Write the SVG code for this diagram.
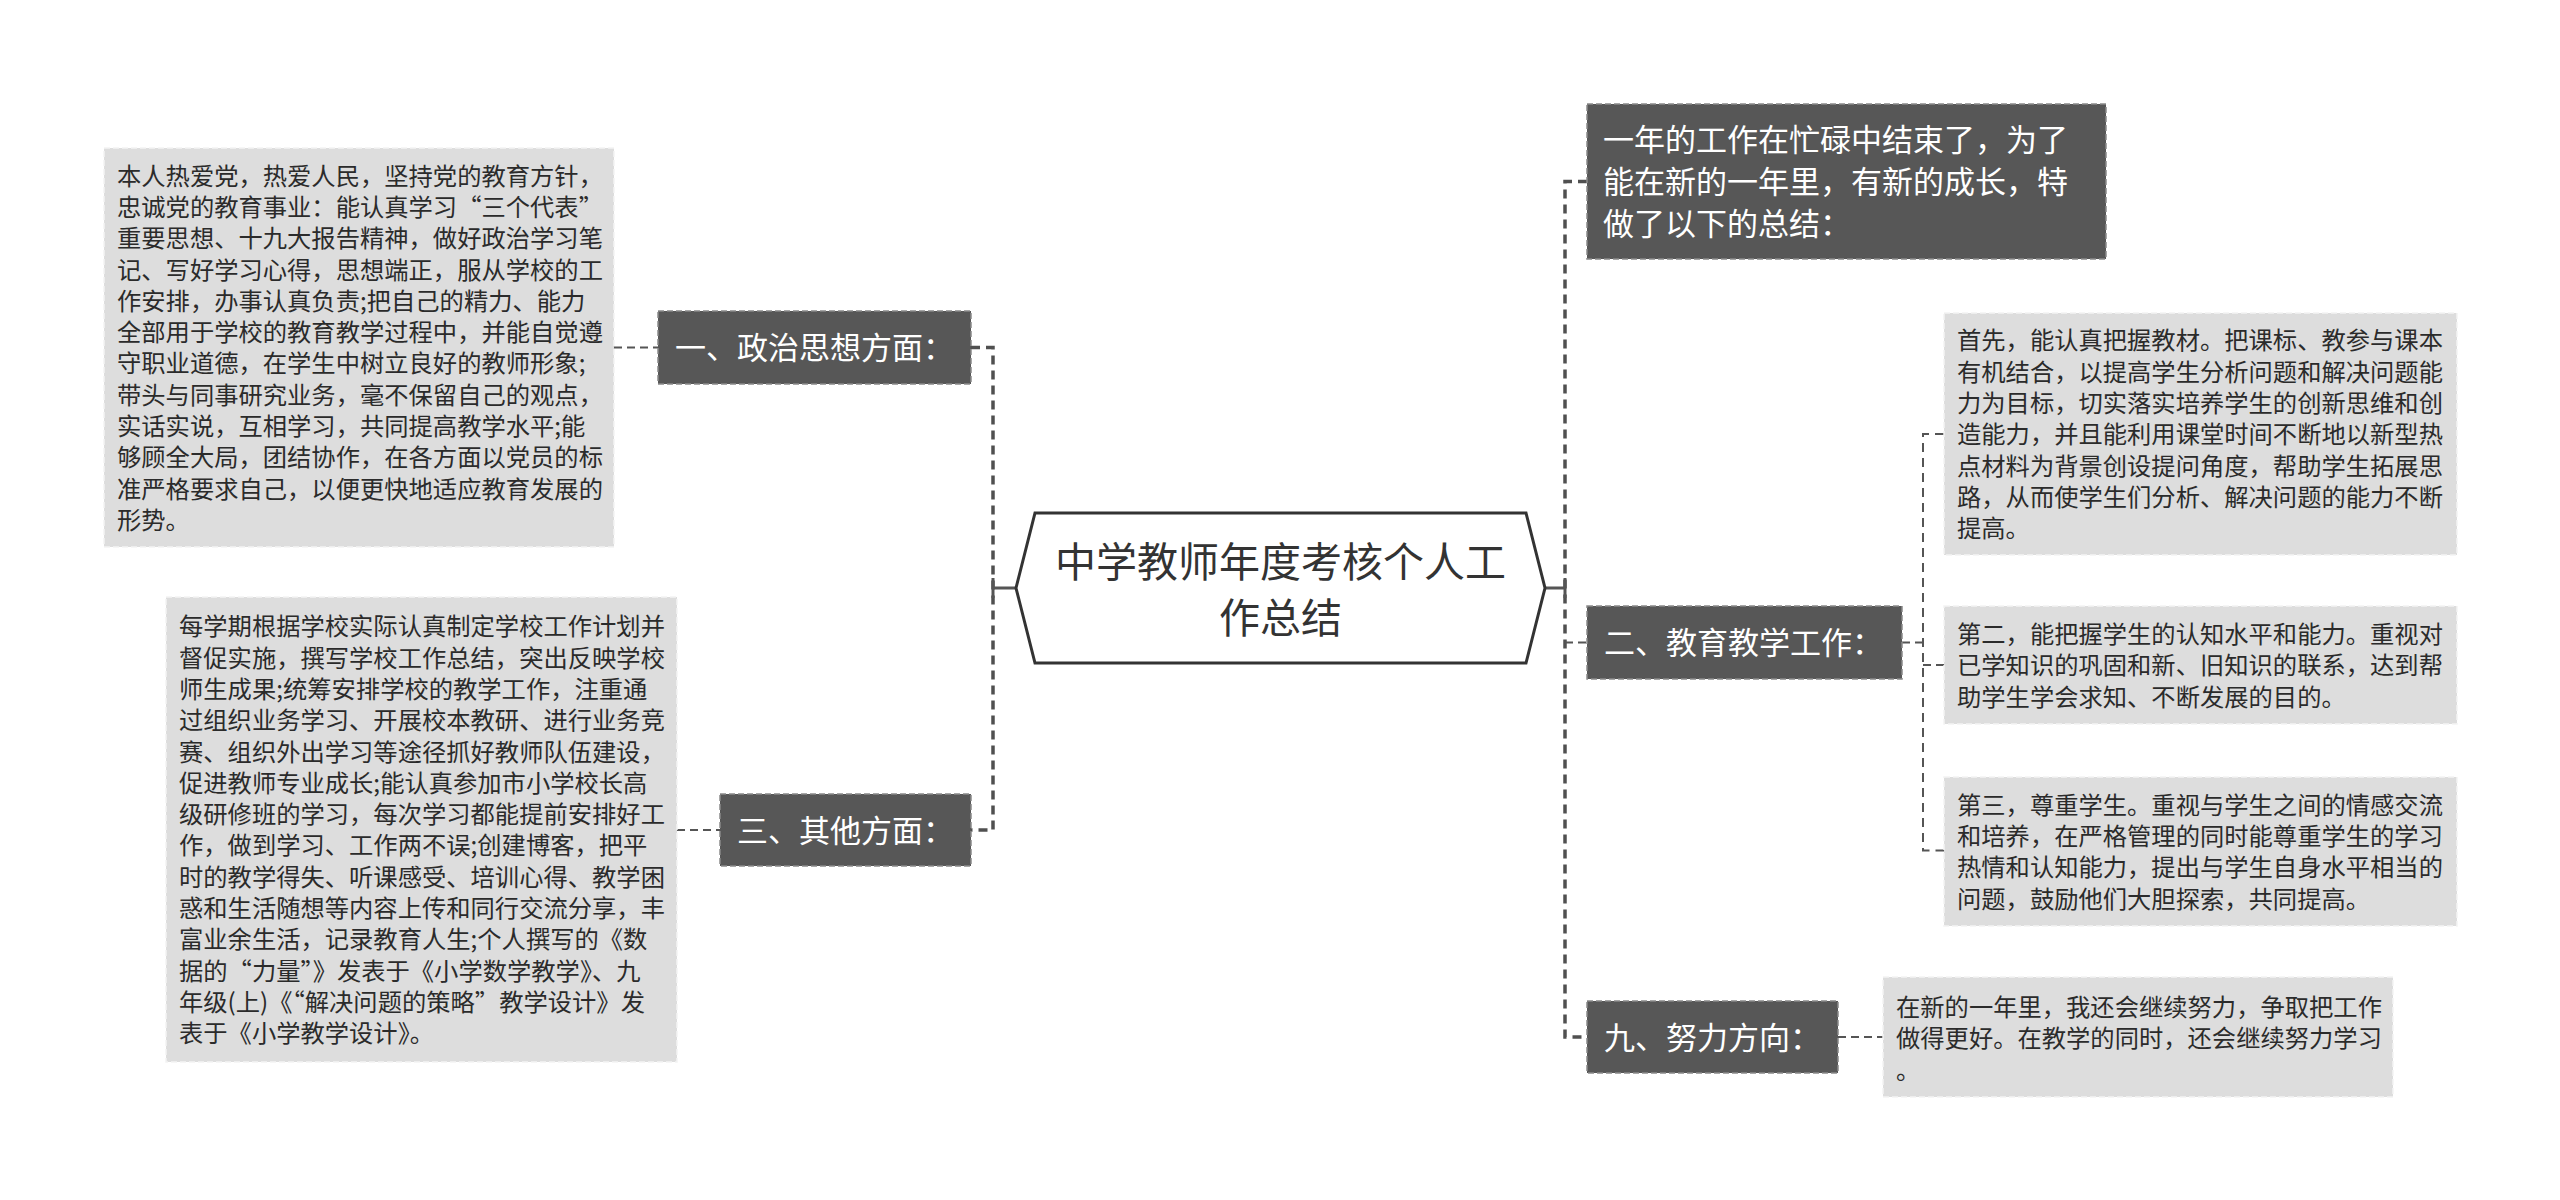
<svg xmlns="http://www.w3.org/2000/svg" width="2560" height="1200" viewBox="0 0 2560 1200">
<style>
text{font-family:"Noto Sans CJK SC","Noto Sans",sans-serif}
.lb rect{fill:#575757;stroke:#8a8a8a;stroke-width:1.5;stroke-dasharray:6 3}
.lb text{fill:#ffffff;font-size:31px}
.tx rect{fill:#dddddd;stroke:#f3f3f3;stroke-width:1.5;stroke-dasharray:6 3}
.tx text{fill:#2b2b2b;font-size:24.3px}
.fw{font-feature-settings:"fwid" 1}
.spine{fill:none;stroke:#505050;stroke-width:3.5;stroke-dasharray:9 6}
.stub{fill:none;stroke:#555555;stroke-width:2;stroke-dasharray:8 5}
.sub{fill:none;stroke:#555555;stroke-width:2;stroke-dasharray:9 6}
.solid{fill:none;stroke:#555555;stroke-width:3}
</style>
<g id="connectors">
<path class="stub" d="M614 347.5H658"/>
<path class="stub" d="M677 830H720"/>
<path class="spine" d="M971 347.5H993V830H971"/>
<path class="solid" d="M993 588H1016M993 578V598"/>
<path class="spine" d="M1587 181.5H1565V1037H1587"/>
<path class="stub" d="M1565 642.5H1587"/>
<path class="solid" d="M1545 588H1565M1565 578V598"/>
<path class="stub" d="M1902 642.5H1923"/>
<path class="sub" d="M1944 434H1923V850.5H1944"/>
<path class="stub" d="M1923 665H1944"/>
<path class="stub" d="M1838 1037H1883"/>
</g>
<g id="root">
<polygon points="1016,588 1035,513 1526,513 1545,588 1526,663 1035,663" fill="#ffffff" stroke="#333333" stroke-width="3"/>
<text font-size="41" fill="#333333" text-anchor="middle"><tspan x="1280.5" y="576.6">中学教师年度考核个人工</tspan><tspan x="1280.5" y="632.6">作总结</tspan></text>
</g>
<g id="label1" class="lb">
<rect x="658" y="311" width="313" height="73"/>
<text x="675" y="359.3">一、政治思想方面：</text>
</g>
<g id="text1" class="tx">
<rect x="104" y="148" width="510" height="399"/>
<text>
<tspan x="117" y="184.6">本人热爱党，热爱人民，坚持党的教育方针，</tspan>
<tspan x="117" y="215.9">忠诚党的教育事业：能认真学习<tspan class="fw">“</tspan>三个代表<tspan class="fw">”</tspan></tspan>
<tspan x="117" y="247.2">重要思想、十九大报告精神，做好政治学习笔</tspan>
<tspan x="117" y="278.5">记、写好学习心得，思想端正，服从学校的工</tspan>
<tspan x="117" y="309.8">作安排，办事认真负责;把自己的精力、能力</tspan>
<tspan x="117" y="341.1">全部用于学校的教育教学过程中，并能自觉遵</tspan>
<tspan x="117" y="372.4">守职业道德，在学生中树立良好的教师形象;</tspan>
<tspan x="117" y="403.7">带头与同事研究业务，毫不保留自己的观点，</tspan>
<tspan x="117" y="435">实话实说，互相学习，共同提高教学水平;能</tspan>
<tspan x="117" y="466.3">够顾全大局，团结协作，在各方面以党员的标</tspan>
<tspan x="117" y="497.6">准严格要求自己，以便更快地适应教育发展的</tspan>
<tspan x="117" y="528.9">形势。</tspan>
</text>
</g>
<g id="label3" class="lb">
<rect x="720" y="794" width="251" height="72"/>
<text x="737" y="841.8">三、其他方面：</text>
</g>
<g id="text3" class="tx">
<rect x="166" y="597" width="511" height="465"/>
<text>
<tspan x="179" y="635.3">每学期根据学校实际认真制定学校工作计划并</tspan>
<tspan x="179" y="666.6">督促实施，撰写学校工作总结，突出反映学校</tspan>
<tspan x="179" y="697.9">师生成果;统筹安排学校的教学工作，注重通</tspan>
<tspan x="179" y="729.2">过组织业务学习、开展校本教研、进行业务竞</tspan>
<tspan x="179" y="760.5">赛、组织外出学习等途径抓好教师队伍建设，</tspan>
<tspan x="179" y="791.8">促进教师专业成长;能认真参加市小学校长高</tspan>
<tspan x="179" y="823.1">级研修班的学习，每次学习都能提前安排好工</tspan>
<tspan x="179" y="854.4">作，做到学习、工作两不误;创建博客，把平</tspan>
<tspan x="179" y="885.7">时的教学得失、听课感受、培训心得、教学困</tspan>
<tspan x="179" y="917">惑和生活随想等内容上传和同行交流分享，丰</tspan>
<tspan x="179" y="948.3">富业余生活，记录教育人生;个人撰写的《数</tspan>
<tspan x="179" y="979.6">据的<tspan class="fw">“</tspan>力量<tspan class="fw">”</tspan>》发表于《小学数学教学》、九</tspan>
<tspan x="179" y="1010.9">年级(上)《<tspan class="fw">“</tspan>解决问题的策略<tspan class="fw">”</tspan>教学设计》发</tspan>
<tspan x="179" y="1042.2">表于《小学教学设计》。</tspan>
</text>
</g>
<g id="intro" class="lb">
<rect x="1587" y="104" width="519" height="155"/>
<text>
<tspan x="1603" y="151.3">一年的工作在忙碌中结束了，为了</tspan>
<tspan x="1603" y="193.3">能在新的一年里，有新的成长，特</tspan>
<tspan x="1603" y="235.3">做了以下的总结：</tspan>
</text>
</g>
<g id="label2" class="lb">
<rect x="1587" y="606" width="315" height="73"/>
<text x="1604" y="654.3">二、教育教学工作：</text>
</g>
<g id="text2a" class="tx">
<rect x="1944" y="313" width="513" height="242"/>
<text>
<tspan x="1957" y="349.3">首先，能认真把握教材。把课标、教参与课本</tspan>
<tspan x="1957" y="380.6">有机结合，以提高学生分析问题和解决问题能</tspan>
<tspan x="1957" y="411.9">力为目标，切实落实培养学生的创新思维和创</tspan>
<tspan x="1957" y="443.2">造能力，并且能利用课堂时间不断地以新型热</tspan>
<tspan x="1957" y="474.5">点材料为背景创设提问角度，帮助学生拓展思</tspan>
<tspan x="1957" y="505.8">路，从而使学生们分析、解决问题的能力不断</tspan>
<tspan x="1957" y="537.1">提高。</tspan>
</text>
</g>
<g id="text2b" class="tx">
<rect x="1944" y="606" width="513" height="118"/>
<text>
<tspan x="1957" y="642.9">第二，能把握学生的认知水平和能力。重视对</tspan>
<tspan x="1957" y="674.2">已学知识的巩固和新、旧知识的联系，达到帮</tspan>
<tspan x="1957" y="705.5">助学生学会求知、不断发展的目的。</tspan>
</text>
</g>
<g id="text2c" class="tx">
<rect x="1944" y="777" width="513" height="149"/>
<text>
<tspan x="1957" y="813.8">第三，尊重学生。重视与学生之间的情感交流</tspan>
<tspan x="1957" y="845.1">和培养，在严格管理的同时能尊重学生的学习</tspan>
<tspan x="1957" y="876.4">热情和认知能力，提出与学生自身水平相当的</tspan>
<tspan x="1957" y="907.7">问题，鼓励他们大胆探索，共同提高。</tspan>
</text>
</g>
<g id="label9" class="lb">
<rect x="1587" y="1001" width="251" height="72"/>
<text x="1604" y="1048.8">九、努力方向：</text>
</g>
<g id="text9" class="tx">
<rect x="1883" y="977" width="510" height="120"/>
<text>
<tspan x="1896" y="1015.9">在新的一年里，我还会继续努力，争取把工作</tspan>
<tspan x="1896" y="1047.2">做得更好。在教学的同时，还会继续努力学习</tspan>
<tspan x="1896" y="1078.5">。</tspan>
</text>
</g>
</svg>
